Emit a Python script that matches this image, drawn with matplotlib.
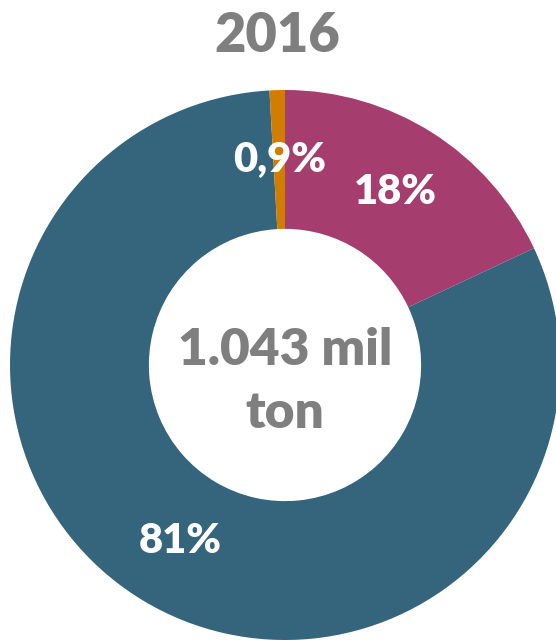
import matplotlib
matplotlib.use("Agg")
import matplotlib.pyplot as plt

title = "2016"
categories = ["Segment A", "Segment B", "Segment C"]
values = [18, 81, 0.9]
labels = ["18%", "81%", "0,9%"]
colors = ["#A63D6F", "#34657D", "#D07D00"]
center_lines = ["1.043 mil", "ton"]

plt.rcParams['font.family'] = ['Lato', 'DejaVu Sans']
W = 'heavy'

fig = plt.figure(figsize=(5.56, 6.4), dpi=100)
ax = fig.add_axes([0, 0, 1, 1])

wedges, texts, autotexts = ax.pie(
    values, colors=colors, startangle=90, counterclock=False,
    radius=1.0, wedgeprops=dict(width=0.505, edgecolor='none'),
    autopct=lambda p: "", pctdistance=0.745,
)
for t, lab in zip(autotexts, labels):
    t.set_text(lab)
    t.set_color("white")
    t.set_fontsize(30)
    t.set_fontweight(W)

ax.set_aspect('auto')
ax.set_xlim(-285 / 275, (556 - 285) / 275)
ax.set_ylim(-275 / 275, 365 / 275)
ax.axis('off')

gray = "#7F7F7F"
ax.text(-0.03, 1.138, title, ha='center', va='baseline', fontsize=39,
        fontweight=W, color=gray)
ax.text(0.0, 0.0, center_lines[0], ha='center', va='baseline', fontsize=37,
        fontweight=W, color=gray)
ax.text(0.0, -0.229, center_lines[1], ha='center', va='baseline', fontsize=37,
        fontweight=W, color=gray)

fig.savefig("out.png", dpi=100)
